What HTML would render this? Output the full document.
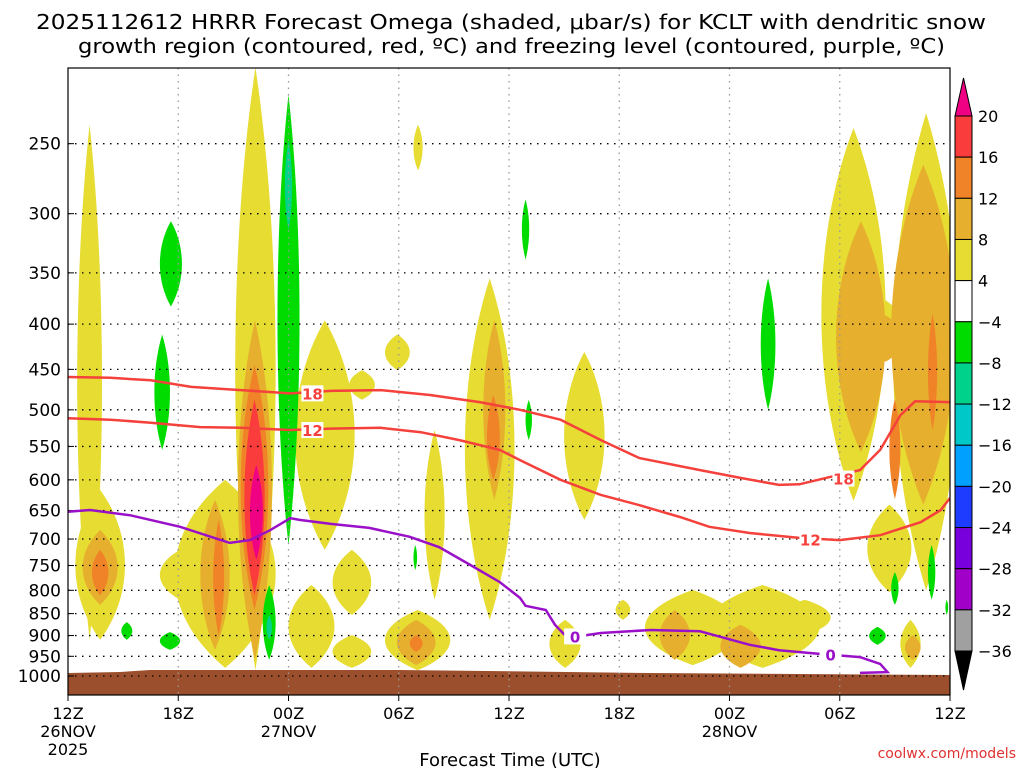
<!DOCTYPE html>
<html><head><meta charset="utf-8"><style>
body{margin:0;background:#fff;}
svg{display:block;font-family:"DejaVu Sans","Liberation Sans",sans-serif;}
</style></head><body>
<svg id="chart" width="1024" height="768" viewBox="0 0 1024 768">
<text x="36" y="29" font-size="20" textLength="950" lengthAdjust="spacingAndGlyphs">2025112612 HRRR Forecast Omega (shaded, μbar/s) for KCLT with dendritic snow</text>
<text x="78" y="53" font-size="20" textLength="867" lengthAdjust="spacingAndGlyphs">growth region (contoured, red, ºC) and freezing level (contoured, purple, ºC)</text>
<g id="plot"></g>
<text x="510" y="766" font-size="18" text-anchor="middle">Forecast Time (UTC)</text>
<text x="1016" y="758" font-size="14" fill="#e03030" text-anchor="end">coolwx.com/models</text>
</svg>
<script>
const NS="http://www.w3.org/2000/svg";
const pressureTicks=[250,300,350,400,450,500,550,600,650,700,750,800,850,900,950,1000];
const timeHours=[0,6,12,18,24,30,36,42,48];
const timeLabels=["12Z","18Z","00Z","06Z","12Z","18Z","00Z","06Z","12Z"];
const dateLabels=[[0,"26NOV"],[12,"27NOV"],[36,"28NOV"]];
const levelColors={"1":"#e6dc32","2":"#e6af2d","3":"#f08228","4":"#fa3c3c","5":"#f00082","-1":"#00dc00","-2":"#00d28c"};
// blobs: [t0,t1,pTop,pBot,level]
const omegaBlobs=[
[0.5,1.85,238,910,1],[0.4,3.1,616,910,1],[5.8,11.3,600,979,1],[9.1,11.3,205,985,1],[5,7.2,720,820,1],
[12.35,15.6,396,720,1],[14.4,16.5,720,853,1],[17.25,18.6,411,451,1],[15.3,16.7,451,487,1],[12,14.5,789,979,1],
[14.4,16.5,899,979,1],[17.25,20.8,842,985,1],[19.4,20.5,527,820,1],[18.8,19.3,238,268,1],[21.6,24.3,355,864,1],
[27,29.2,430,666,1],[26.2,27.9,864,979,1],[29.8,30.6,820,864,1],[31.4,36.6,799,972,1],[34.7,40.9,789,979,1],
[38.7,41.5,820,899,1],
[41,44.5,240,634,1],[44.9,48.5,231,800,1],[43.5,45.9,640,804,1],[43.5,45.5,376,433,1],[45.3,46.4,864,979,1],
[0.8,2.7,684,831,2],[7.2,8.8,632,934,2],[9.25,11.1,396,959,2],[17.9,20,864,972,2],[22.6,23.8,396,632,2],
[32.2,33.85,842,959,2],[35.5,37.7,875,979,2],[45.55,46.4,899,959,2],
[41.8,44.5,306,558,2],[44.8,48.3,264,640,2],[43.5,45.5,391,441,2],
[1.3,2.2,720,810,3],[7.9,8.5,666,900,3],[9.4,10.9,445,842,3],[18.6,19.3,899,939,3],[22.8,23.5,481,600,3],
[44.7,45.3,486,631,3],[46.8,47.3,389,527,3],
[9.6,10.7,487,810,4],[9.9,10.6,577,739,5],
[5,6.2,306,382,-1],[4.7,5.55,411,555,-1],[11.4,12.6,220,711,-1],[10.6,11.3,789,959,-1],[5,6.1,892,934,-1],
[2.9,3.5,869,910,-1],[24.7,25.1,289,338,-1],[24.9,25.25,487,541,-1],[37.7,38.5,355,500,-1],[18.8,19,711,759,-1],
[43.6,44.5,880,922,-1],[44.8,45.2,763,831,-1],[46.8,47.2,711,820,-1],[47.75,47.9,820,853,-1],
[11.8,12.2,248,313,-2],[10.8,11.1,853,910,-2]];
const minus18T=[0,2.3,4.5,6.7,9.4,12.1,14.3,17,19.7,22.4,24.6,26.8,29,31.1,34.4,36.6,38.7,39.8,41.4,43.1,44.2,45.3,46.1,48];
const minus18P=[459,460,463,471,475,479,476,475,481,490,500,513,541,567,585,597,608,607,596,585,555,507,489,490];
const minus12T=[0,2.3,4.5,7.2,9.4,12.1,14.3,17,19.2,21.3,23.5,24.6,26.8,29,31.1,33.3,34.9,37.1,39.8,42,44.2,46.4,47.5,48];
const minus12P=[511,513,517,523,524,527,525,524,530,541,555,570,600,624,641,661,678,689,698,702,693,670,649,629];
const freezeT=[0,1.2,3.4,6.1,8.8,9.9,11,12.1,12.6,14.3,16.4,18.6,20.2,21.9,23.5,24.6,24.9,26,26.5,27,27.9,29,31.7,34.4,35.5,37.1,38.7,40.9,43.1,44.2,44.6,43.1];
const freezeP=[652,649,658,678,707,702,684,663,666,673,680,696,715,749,783,816,833,842,875,897,901,894,887,890,903,922,935,944,952,969,990,992];
const cbarLabels=["20","16","12","8","4","−4","−8","−12","−16","−20","−24","−28","−32","−36"];
const cbarColors=["#fa3c3c","#f08228","#e6af2d","#e6dc32","#ffffff","#00dc00","#00d28c","#00c8c8","#00a0ff","#1e3cff","#7800dc","#a000c8","#a0a0a0"];

const X0=68,X1=950,YB=676,PPL=384;
const xs=t=>X0+(X1-X0)*t/48;
function yp(p){return YB-Math.log(1000/p)*PPL;}
const g=document.getElementById('plot');
function mk(tag,attrs,parent){const e=document.createElementNS(NS,tag);for(const k in attrs)e.setAttribute(k,attrs[k]);(parent||g).appendChild(e);return e;}
const svg=document.getElementById('chart');
const defs=mk('defs',{},svg);
const cp=mk('clipPath',{id:'clip'},defs);mk('rect',{x:X0,y:68,width:X1-X0,height:627},cp);
const shade=mk('g',{'clip-path':'url(#clip)'});


omegaBlobs.forEach(b=>{
 const x0=xs(b[0]),x1=xs(b[1]),y0=yp(b[2]),y1=yp(b[3]);
 const cx=(x0+x1)/2,h=y1-y0,k=0.3*h,a=0.667*(x1-x0);
 const d=`M${cx} ${y0} C${cx+a} ${y0+k} ${cx+a} ${y1-k} ${cx} ${y1} C${cx-a} ${y1-k} ${cx-a} ${y0+k} ${cx} ${y0}Z`;
 const e=mk('path',{d:d,fill:levelColors[b[4]]},shade);
 
 
});
const gr=mk('path',{d:`M${X0} 673 L120 672 L150 670 L400 670 L650 673 L${X1} 675 L${X1} 695 L${X0} 695Z`,fill:'#9c4f2c'});


pressureTicks.forEach(p=>{
 const y=yp(p);
 const l=mk('line',{x1:X0,x2:X1,y1:y,y2:y,stroke:'#000','stroke-width':1.3,'stroke-dasharray':'1.5 5.5'});
 
 
 const t=mk('text',{x:61,y:y+6,'font-size':17,'text-anchor':'end'});t.textContent=p;
 
 
 mk('line',{x1:X0,x2:X0+6,y1:y,y2:y,stroke:'#000'});
});
timeHours.forEach((h,i)=>{
 const x=xs(h);
 if(i>0&&i<8){const l=mk('line',{x1:x,x2:x,y1:68,y2:695,stroke:'#999','stroke-width':1.3,'stroke-dasharray':'1.5 5'});
 
 }
 mk('line',{x1:x,x2:x,y1:695,y2:701,stroke:'#000'});
 const t=mk('text',{x:x,y:719,'font-size':16,'text-anchor':'middle'});t.textContent=timeLabels[i];
 
 
});
dateLabels.forEach(d=>{const t=mk('text',{x:xs(d[0]),y:737,'font-size':16,'text-anchor':'middle'});t.textContent=d[1];
 
 });
{const t=mk('text',{x:xs(0),y:755,'font-size':16,'text-anchor':'middle'});t.textContent="2025";
 
 }
function line(T,P,col,name){
 const d=T.map((t,i)=>(i?'L':'M')+xs(t).toFixed(1)+' '+yp(P[i]).toFixed(1)).join(' ');
 const l=mk('path',{d:d,fill:'none',stroke:col,'stroke-width':2.5,'clip-path':'url(#clip)'});
 
 
}
line(minus18T,minus18P,'#f5413c','contour-minus18');
line(minus12T,minus12P,'#f5413c','contour-minus12');
line(freezeT,freezeP,'#9a10c8','freezing-level');
function lab(t,p,s,col,name){
 const x=xs(t),y=yp(p);
 mk('rect',{x:x-11,y:y-8,width:22,height:16,fill:'#fff'});
 const e=mk('text',{x:x,y:y+6,'font-size':15,'font-weight':'bold',fill:col,'text-anchor':'middle'});e.textContent=s;
 
 
}
lab(13.3,479,'18','#f5413c','label-minus18');lab(42.2,598,'18','#f5413c','label-minus18');
lab(13.3,527,'12','#f5413c','label-minus12');lab(40.4,701,'12','#f5413c','label-minus12');
lab(27.6,902,'0','#9a10c8','label-freezing');lab(41.5,946,'0','#9a10c8','label-freezing');
mk('rect',{x:X0,y:68,width:X1-X0,height:627,fill:'none',stroke:'#000','stroke-width':1.2});
const cb=mk('g',{},svg);


const CX=955,CW=17,CT=116,CB=651,step=(CB-CT)/13;
mk('polygon',{points:`${CX},${CT} ${CX+CW/2},78 ${CX+CW},${CT}`,fill:'#f00082',stroke:'#000'},cb);
mk('polygon',{points:`${CX},${CB} ${CX+CW/2},690 ${CX+CW},${CB}`,fill:'#000',stroke:'#000'},cb);
cbarColors.forEach((c,i)=>{const r=mk('rect',{x:CX,y:CT+i*step,width:CW,height:step,fill:c,stroke:'#000','stroke-width':1},cb);
 
 });
cbarLabels.forEach((s,i)=>{const t=mk('text',{x:978,y:CT+i*step+6,'font-size':16},cb);t.textContent=s;
 
 });
</script>
</body></html>
